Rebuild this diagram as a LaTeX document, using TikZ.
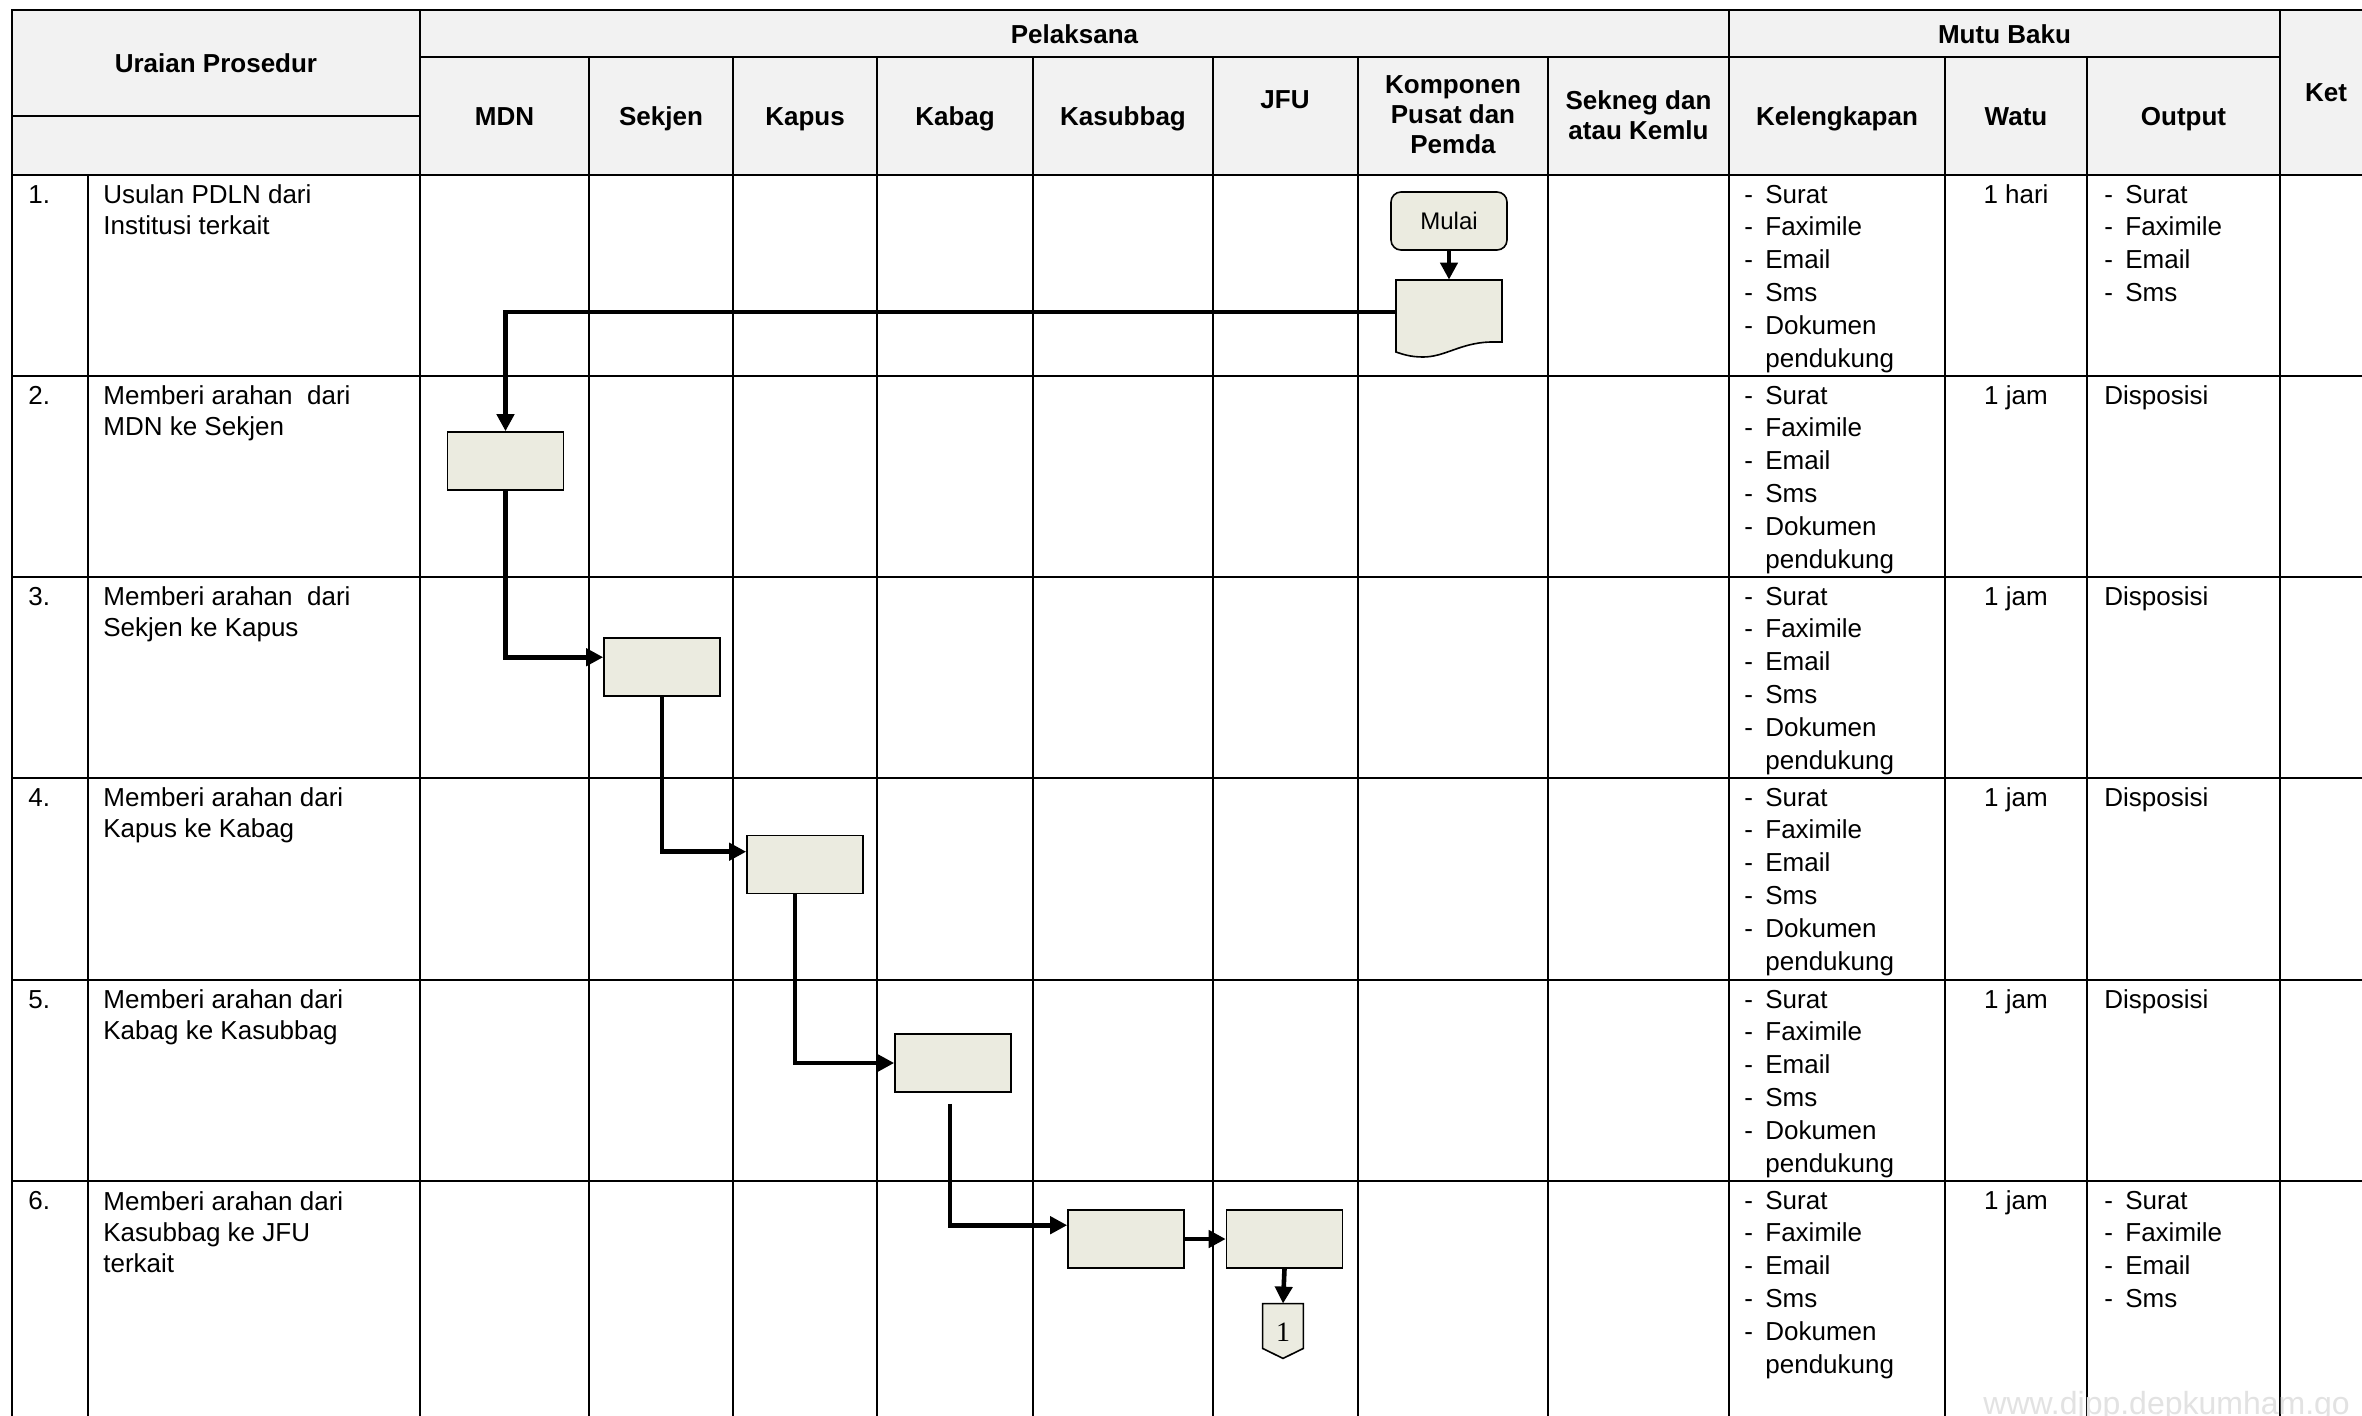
\documentclass[tikz,border=0pt]{standalone}
\usepackage{fontspec}
\setmainfont{Liberation Sans}
\newfontfamily\serifone{Liberation Serif}
\usetikzlibrary{arrows.meta,calc}
\definecolor{hdr}{RGB}{242,242,242}
\definecolor{shp}{RGB}{235,235,224}
\definecolor{wm}{RGB}{226,226,226}
\newcommand\lidash{\makebox[10.5pt][l]{-}}
\newcommand\liind{\hspace*{10.5pt}}
\begin{document}
\begin{tikzpicture}[x=0.5pt,y=-0.5pt,
  grid/.style={line width=1.1pt, line cap=rect},
  hd/.style={font=\fontsize{13}{15.2}\selectfont\bfseries, align=center, inner sep=0pt, anchor=base},
  txt/.style={font=\fontsize{13}{15.5}\selectfont, align=left, inner sep=0pt, anchor=base west},
  lst/.style={font=\fontsize{13}{16.4}\selectfont, align=left, inner sep=0pt, anchor=base west},
  ctr/.style={font=\fontsize{13}{16.4}\selectfont, inner sep=0pt, anchor=base},
  box/.style={draw, line width=0.8pt, fill=shp, minimum width=58pt, minimum height=29pt, inner sep=0pt},
  flow/.style={line width=2.3pt, -{Triangle[length=8.5pt,width=8.5pt]}},
]
\useasboundingbox (0,0) rectangle (2362,1415);
\clip (0,0) rectangle (2362,1415);
\fill[white] (0,0) rectangle (2362,1415);
% header background
\fill[hdr] (12,10) rectangle (2362,175);
% table lines
\draw[grid] (12,10) -- (2362,10);
\draw[grid] (420,57) -- (2280,57);
\draw[grid] (12,116) -- (420,116);
\foreach \y in {175,376,577,778,980,1181} \draw[grid] (12,\y) -- (2362,\y);
\draw[grid] (12,10) -- (12,1415);
\draw[grid] (88,175) -- (88,1415);
\draw[grid] (420,10) -- (420,1415);
\foreach \x in {589,733,877,1033,1213,1358,1548,1945,2087} \draw[grid] (\x,57) -- (\x,1415);
\foreach \x in {1729,2280} \draw[grid] (\x,10) -- (\x,1415);
% header texts (multi-line nodes are placed by the baseline of their last line)
\node[hd] (hUraian) at (216,72) {Uraian Prosedur};
\node[hd] (hPel) at (1074.5,43) {Pelaksana};
\node[hd] (hMutu) at (2004.5,43) {Mutu Baku};
\node[hd] (hKet) at (2326,101) {Ket};
\node[hd] (hMDN) at (504.5,125) {MDN};
\node[hd] (hSekjen) at (661,125) {Sekjen};
\node[hd] (hKapus) at (805,125) {Kapus};
\node[hd] (hKabag) at (955,125) {Kabag};
\node[hd] (hKasub) at (1123,125) {Kasubbag};
\node[hd] (hJFU) at (1285,108) {JFU};
\node[hd] (hKomp) at (1453,153.8) {Komponen\\Pusat dan\\Pemda};
\node[hd] (hSekneg) at (1638.5,139.5) {Sekneg dan\\atau Kemlu};
\node[hd] (hKel) at (1837,125) {Kelengkapan};
\node[hd] (hWatu) at (2016,125) {Watu};
\node[hd] (hOut) at (2183.5,125) {Output};
% row numbers and descriptions
\node[txt] (n1) at (28,203) {1.};
\node[txt] (n2) at (28,404) {2.};
\node[txt] (n3) at (28,605) {3.};
\node[txt] (n4) at (28,806) {4.};
\node[txt] (n5) at (28,1008) {5.};
\node[txt] (n6) at (28,1209) {6.};
\node[txt] (d1) at (103,234) {Usulan PDLN dari\\Institusi terkait};
\node[txt] (d2) at (103,435) {Memberi arahan~ dari\\MDN ke Sekjen};
\node[txt] (d3) at (103,636) {Memberi arahan~ dari\\Sekjen ke Kapus};
\node[txt] (d4) at (103,837) {Memberi arahan dari\\Kapus ke Kabag};
\node[txt] (d5) at (103,1039) {Memberi arahan dari\\Kabag ke Kasubbag};
\node[txt] (d6) at (103,1272) {Memberi arahan dari\\Kasubbag ke JFU\\terkait};
% kelengkapan
\foreach \r/\y in {1/367,2/568,3/769,4/970,5/1172,6/1373}
  \node[lst] (k\r) at (1744,\y) {\lidash Surat\\\lidash Faximile\\\lidash Email\\\lidash Sms\\\lidash Dokumen\\\liind pendukung};
% watu
\node[ctr] (w1) at (2016,203) {1 hari};
\foreach \r/\y in {2/404,3/605,4/806,5/1008,6/1209}
  \node[ctr] (w\r) at (2016,\y) {1 jam};
% output
\node[lst] (o1) at (2104,301.4) {\lidash Surat\\\lidash Faximile\\\lidash Email\\\lidash Sms};
\foreach \r/\y in {2/404,3/605,4/806,5/1008}
  \node[txt] (o\r) at (2104,\y) {Disposisi};
\node[lst] (o6) at (2104,1307.4) {\lidash Surat\\\lidash Faximile\\\lidash Email\\\lidash Sms};
% flowchart shapes
\node[box, rounded corners=5pt] (mulai) at (1449,221) {\fontsize{12}{14}\selectfont Mulai};
\draw[line width=0.8pt, fill=shp] (1396,280) -- (1502,280) -- (1502,342) -- (1490,342)
  .. controls (1460,343) and (1445,357) .. (1423,357)
  .. controls (1410,357) and (1402,354) .. (1396,352) -- cycle;
\node[minimum width=53pt, minimum height=32pt, inner sep=0pt] (doc) at (1449,312) {};
\node[box] (b1) at (505.5,461) {};
\node[box] (b2) at (662,667) {};
\node[box] (b3) at (805,864.5) {};
\node[box] (b4) at (953,1063) {};
\node[box] (b5) at (1126,1239) {};
\node[box] (b6) at (1284.5,1239) {};
\node[minimum width=20pt, minimum height=22pt, inner sep=0pt] (off) at (1283,1326) {};
\draw[line width=0.8pt, fill=shp] (off.north west) -- (off.north east) -- (off.south east)
  -- ($(off.south)+(0,10)$) -- (off.south west) -- cycle;
\node[font=\serifone\fontsize{14}{14}\selectfont, inner sep=0pt] (offnum) at ($(off.center)+(0,6)$) {1};
% connectors
\draw[flow] (mulai.south) -- (doc.north);
\draw[flow] (doc.west) -| (b1.north);
\draw[flow] (b1.south) |- ($(b2.north west)+(0,20)$);
\draw[flow] (b2.south) |- ($(b3.north west)+(0,17)$);
\draw[flow] ($(b3.south)+(-10,0)$) |- (b4.west);
\draw[flow] ($(b4.south)+(-3,11)$) |- ($(b5.north west)+(0,16)$);
\draw[flow] (b5.east) -- (b6.west);
\draw[flow] (b6.south) -- (off.north);
% watermark
\node[font=\fontsize{16}{16}\selectfont, text=wm, anchor=base west, inner sep=0pt] (wmark) at (1983,1414) {www.djpp.depkumham.go};
\end{tikzpicture}
\end{document}
